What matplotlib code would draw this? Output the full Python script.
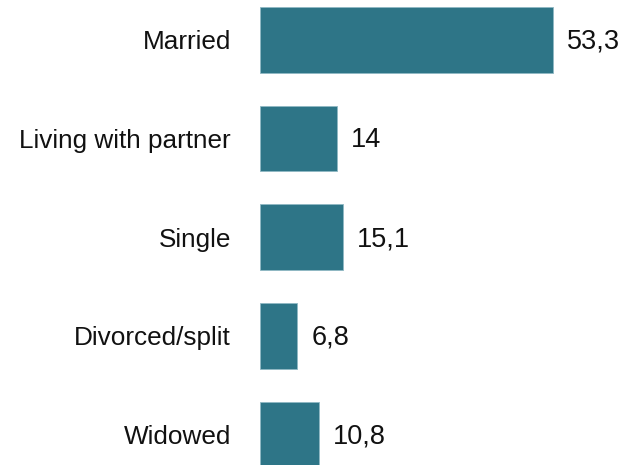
import matplotlib
matplotlib.use("Agg")
import matplotlib.pyplot as plt
from matplotlib import font_manager

categories = ["Married", "Living with partner", "Single", "Divorced/split", "Widowed"]
values = [53.3, 14, 15.1, 6.8, 10.8]
labels = ["53,3", "14", "15,1", "6,8", "10,8"]

names = {f.name for f in font_manager.fontManager.ttflist}
fam = "Liberation Sans Narrow" if "Liberation Sans Narrow" in names else "Liberation Sans"
plt.rcParams["font.family"] = [fam, "DejaVu Sans"]

fig = plt.figure(figsize=(6.25, 4.65), dpi=100)
ax = fig.add_axes([260 / 625, 0, 365 / 625, 1])
y = list(range(len(categories)))
ax.barh(y, values, height=0.667, color="#2E7587", edgecolor="#8fb8c4", linewidth=0.6)
ax.set_xlim(0, 365 / 5.5)
ax.set_ylim(4.31, -0.404)
for yi, v, lab in zip(y, values, labels):
    ax.text(v + 2.5, yi + 0.02, lab, va="center", ha="left", fontsize=19.5, color="#111111")
ax.set_yticks(y)
ax.set_yticklabels(categories, fontsize=18.8, color="#111111")
ax.tick_params(axis="y", length=0, pad=21)
ax.set_xticks([])
for s in ax.spines.values():
    s.set_visible(False)
fig.savefig("out.png", dpi=100)
